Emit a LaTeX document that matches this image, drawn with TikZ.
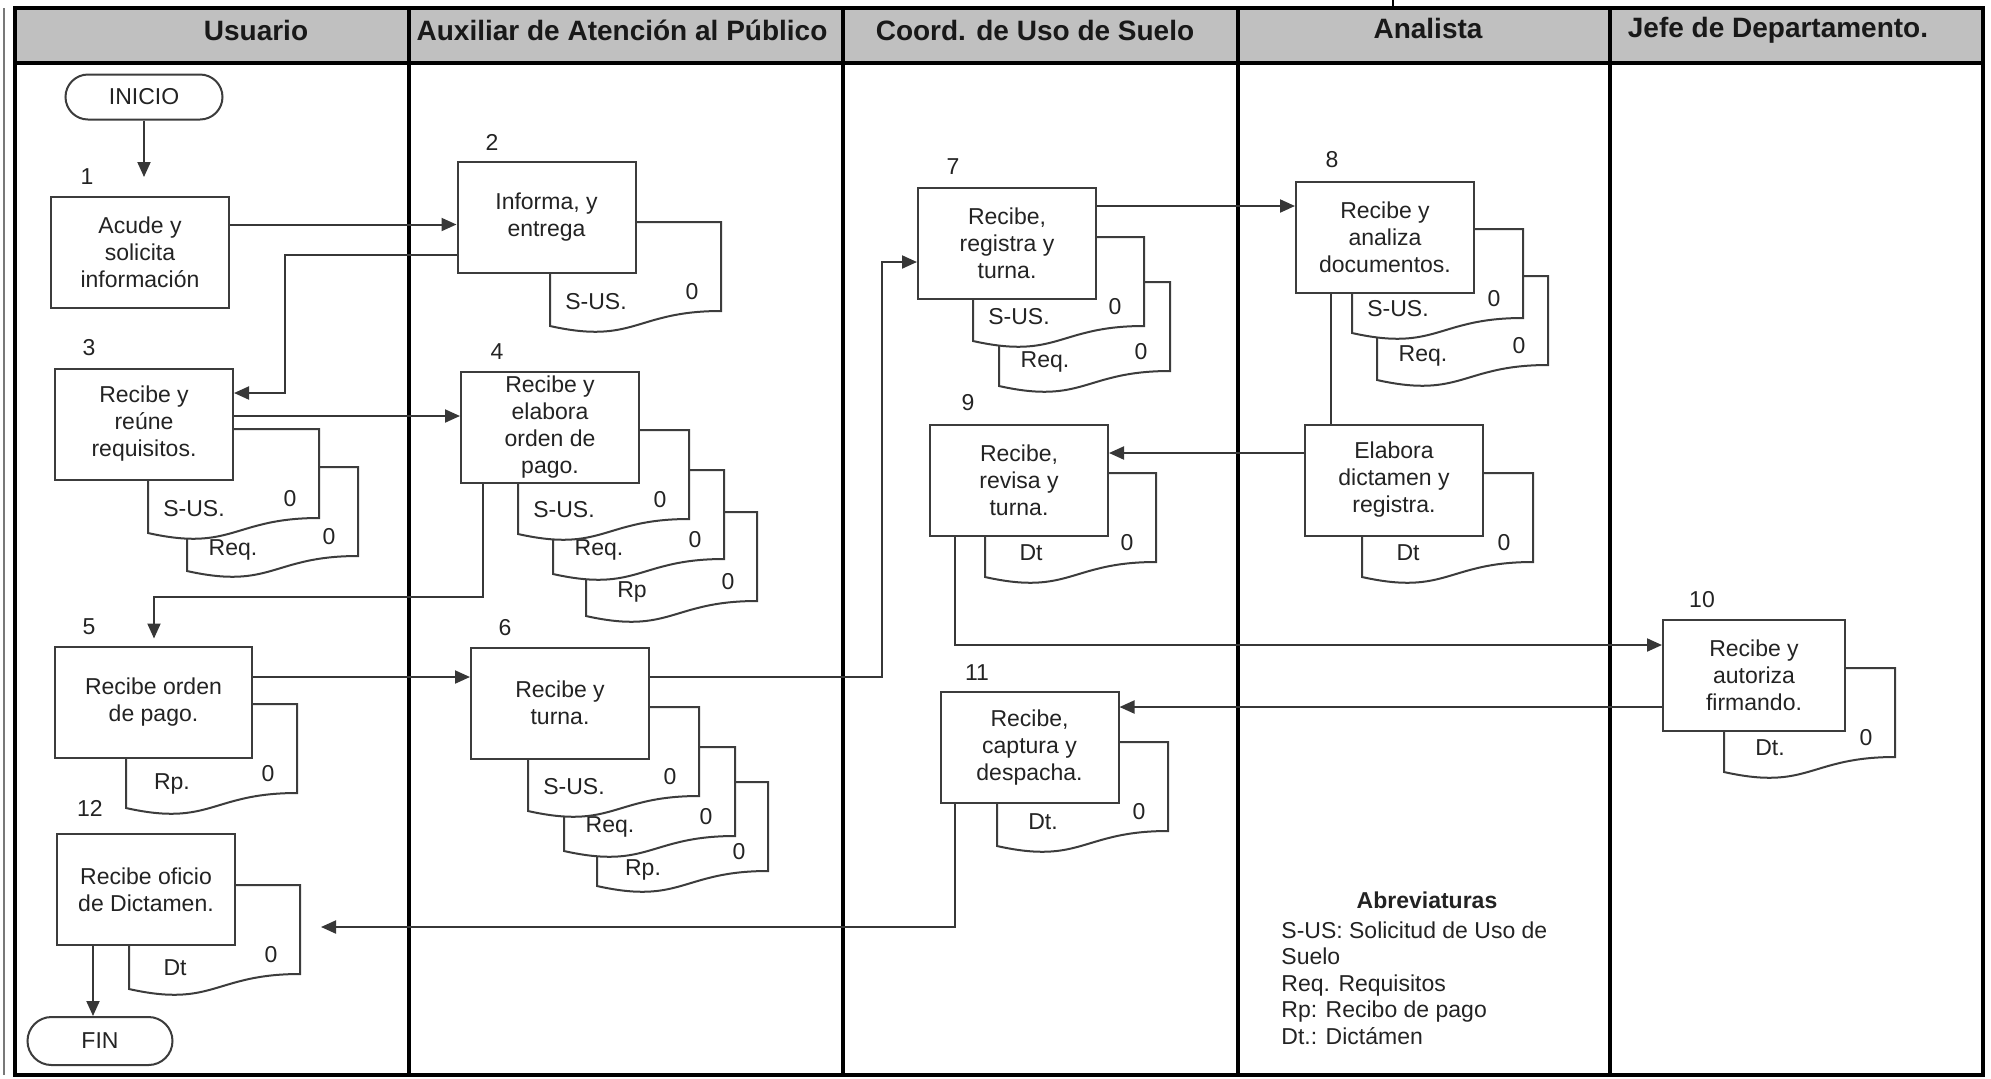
\documentclass[tikz,border=0pt]{standalone}
\usepackage{fontspec}
\setmainfont{Liberation Sans}
\usetikzlibrary{arrows.meta,calc,shapes.misc}

\newcommand{\bodyfont}{\fontsize{11.5}{13.5}\selectfont}
\newcommand{\headfont}{\fontsize{14}{16}\selectfont\bfseries}
% document shape: [label drop], left x, top y, label, name
\newcommand{\docu}[5][80]{%
\draw [docline] (#2,#3) -- ({#2+171},#3) -- ({#2+171},{#3+89}) .. controls ({#2+85},{#3+89}) and ({#2+85},{#3+123}) .. (#2,{#3+104}) -- cycle ;
\node [doctxt] (#5) at ({#2+46},{#3+#1}) {#4};
\node [doctxt] (#5n) at ({#2+142},{#3+70}) {0};
}

\begin{document}
\begin{tikzpicture}[x=0.5pt,y=0.5pt,yscale=-1,
  lane/.style={color={rgb, 255:red, 0; green, 0; blue, 0 },line width=1.7pt},
  head/.style={font=\headfont,text={rgb, 255:red, 25; green, 25; blue, 25 },inner sep=0pt},
  box/.style={draw={rgb, 255:red, 60; green, 60; blue, 60 },line width=1pt,fill=white,minimum width=89pt,minimum height=55.5pt,inner sep=0pt,align=center,font=\bodyfont,text={rgb, 255:red, 35; green, 35; blue, 35 }},
  term/.style={rounded rectangle,draw={rgb, 255:red, 60; green, 60; blue, 60 },line width=1pt,fill=white,inner sep=0pt,font=\bodyfont,text={rgb, 255:red, 35; green, 35; blue, 35 }},
  num/.style={font=\bodyfont,text={rgb, 255:red, 35; green, 35; blue, 35 },inner sep=0pt},
  docline/.style={draw={rgb, 255:red, 60; green, 60; blue, 60 },line width=1pt,fill=white},
  doctxt/.style={font=\bodyfont,text={rgb, 255:red, 35; green, 35; blue, 35 },inner sep=0pt},
  arr/.style={draw={rgb, 255:red, 55; green, 55; blue, 55 },line width=1pt,-{Triangle[length=7.5pt,width=6.5pt]}},
  link/.style={draw={rgb, 255:red, 55; green, 55; blue, 55 },line width=1pt}]
\useasboundingbox (0,0) rectangle (1991,1078);

%Shape: Rectangle (header band)
\draw [lane,fill={rgb, 255:red, 192; green, 192; blue, 192 }] (15,8) rectangle (1983,63) ;
%Shape: frame
\draw [lane] (15,63) -- (15,1075) -- (1983,1075) -- (1983,63) ;
\draw [lane,line width=2.4pt] (15,8) -- (15,1075) ;
\draw [color={rgb, 255:red, 120; green, 120; blue, 120 },line width=0.7pt] (4,8) -- (4,1075) ;
\foreach \lx in {409,843,1238,1610} {
  \draw [lane] (\lx,8) -- (\lx,1075) ;
}
\draw [lane,line width=1pt] (1393,0) -- (1393,8) ;

% Text Node
\node [head] (hus) at (256,30) {Usuario};
\node [head] (hax) at (622,30) {Auxiliar de Atención al Público};
\node [head] (hco) at (1035,30) {Coord. de Uso de Suelo};
\node [head] (han) at (1428,28) {Analista};
\node [head] (hje) at (1778,30) {Jefe de Departamento.};

%Shape: Documents
\docu{550}{222}{S-US.}{d2a}
\docu[83]{187}{467}{Req.}{d3b}
\docu{148}{429}{S-US.}{d3a}
\docu{586}{512}{Rp}{d4c}
\docu{553}{470}{Req.}{d4b}
\docu{518}{430}{S-US.}{d4a}
\docu{126}{704}{Rp.}{d5a}
\docu[88]{597}{782}{Rp.}{d6c}
\docu{564}{747}{Req.}{d6b}
\docu{528}{707}{S-US.}{d6a}
\docu{999}{282}{Req.}{d7b}
\docu{973}{237}{S-US.}{d7a}
\docu{1377}{276}{Req.}{d8b}
\docu{1352}{229}{S-US.}{d8a}
\docu{985}{473}{Dt}{d9a}
\docu{1362}{473}{Dt}{dela}
\docu{1724}{668}{Dt.}{d10a}
\docu{997}{742}{Dt.}{d11a}
\docu[83]{129}{885}{Dt}{d12a}

%Shape: Terminals
\node [term,minimum width=78.5pt,minimum height=22.5pt] (ini) at (144,97) {INICIO};
\node [term,minimum width=72.5pt,minimum height=24pt] (fin) at (100,1041) {FIN};

%Shape: Rectangles
\node [box] (b1) at (140,252.5) {Acude y\\solicita\\información};
\node [box] (b2) at (546.5,217.5) {Informa, y\\entrega};
\node [box] (b3) at (144,424) {Recibe y\\reúne\\requisitos.};
\node [box] (b4) at (550,427) {Recibe y\\elabora\\orden de\\pago.};
\node [box,minimum width=98.5pt] (b5) at (153.5,702) {Recibe orden\\de pago.};
\node [box] (b6) at (560,703) {Recibe y\\turna.};
\node [box] (b7) at (1007,243) {Recibe,\\registra y\\turna.};
\node [box] (b8) at (1385,237) {Recibe y\\analiza\\documentos.};
\node [box] (b9) at (1019,480) {Recibe,\\revisa y\\turna.};
\node [box] (bel) at (1394,480) {Elabora\\dictamen y\\registra.};
\node [box,minimum width=91pt] (b10) at (1754,675.5) {Recibe y\\autoriza\\firmando.};
\node [box] (b11) at (1029.5,747.5) {Recibe,\\captura y\\despacha.};
\node [box] (b12) at (146,889.5) {Recibe oficio\\de Dictamen.};

% Text Node
\node [num] (n1) at (87,177) {1};
\node [num] (n2) at (492,142) {2};
\node [num] (n3) at (89,348) {3};
\node [num] (n4) at (497,352) {4};
\node [num] (n5) at (89,627) {5};
\node [num] (n6) at (505,628) {6};
\node [num] (n7) at (953,167) {7};
\node [num] (n8) at (1332,160) {8};
\node [num] (n9) at (968,403) {9};
\node [num] (n10) at (1702,600) {10};
\node [num] (n11) at (977,673) {11};
\node [num] (n12) at (90,808) {12};

% Text Node
\node [font=\bodyfont\bfseries,text={rgb, 255:red, 35; green, 35; blue, 35 },inner sep=0pt] (abt) at (1427,900) {Abreviaturas};
\node [anchor=north west,align=left,font=\fontsize{11.5}{13.25}\selectfont,text={rgb, 255:red, 35; green, 35; blue, 35 },inner sep=0pt] (abl) at (1281,921) {S-US: Solicitud de Uso de\\Suelo\\Req. Requisitos\\Rp: Recibo de pago\\Dt.: Dictámen};

%Connectors
\coordinate (t1) at (144,177);
\coordinate (k3) at (285,393);
\coordinate (k5) at (154,597);
\coordinate (k7) at (882,262);
\coordinate (t12) at (321,927);
\draw [arr] (ini) -- (t1) ;
\draw [arr] ($(b1.east)+(0,-28)$) -- ($(b2.west)+(0,7)$) ;
\draw [arr] ($(b2.west)+(0,37)$) -| (k3) -- ($(b3.east)+(0,-31)$) ;
\draw [arr] ($(b3.east)+(0,-8)$) -- ($(b4.west)+(0,-11)$) ;
\draw [arr] ($(b4.south)+(-67,0)$) |- (k5) -- ($(b5.north)+(0.5,-7)$) ;
\draw [arr] ($(b5.east)+(0,-25)$) -- ($(b6.west)+(0,-26)$) ;
\draw [arr] ($(b6.east)+(0,-26)$) -| (k7) -- ($(b7.west)+(0,19)$) ;
\draw [arr] ($(b7.east)+(0,-37)$) -- ($(b8.west)+(0,-31)$) ;
\draw [link] ($(b8.south)+(-54,0)$) -- ($(bel.north)+(-63,0)$) ;
\draw [arr] ($(bel.west)+(0,-27)$) -- ($(b9.east)+(0,-27)$) ;
\draw [arr] ($(b9.south)+(-64,0)$) |- ($(b10.west)+(0,-30.5)$) ;
\draw [arr] ($(b10.west)+(0,31.5)$) -- ($(b11.east)+(0,-40.5)$) ;
\draw [arr] ($(b11.south)+(-74.5,0)$) |- (t12) ;
\draw [arr] ($(b12.south)+(-53,0)$) -- ($(fin.north)+(-7,0)$) ;

\end{tikzpicture}
\end{document}
